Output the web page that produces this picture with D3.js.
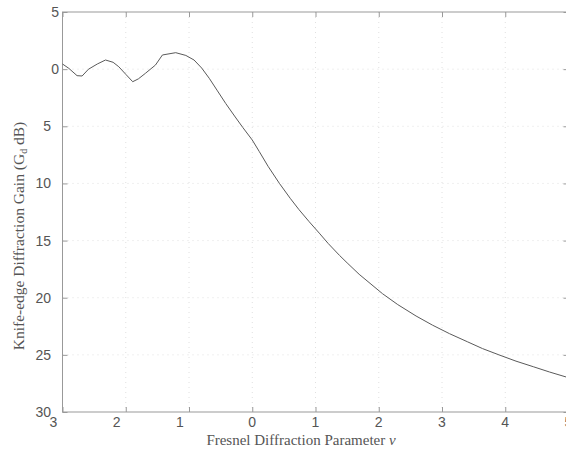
<!DOCTYPE html>
<html><head><meta charset="utf-8">
<script src="https://cdn.jsdelivr.net/npm/d3@7"></script>
<style>body{margin:0;background:#fff;}svg{display:block;}</style>
</head><body>
<svg id="c" width="566" height="449"></svg>
<script>
// Data
const vValues = [-3, -2.9, -2.77, -2.69, -2.59, -2.45, -2.32, -2.2, -2.11, -2.0, -1.89, -1.8, -1.69, -1.53, -1.42, -1.21, -1.05, -0.92, -0.8, -0.68, -0.55, -0.42, -0.28, -0.15, 0, 0.11, 0.25, 0.43, 0.6, 0.74, 0.9, 1.06, 1.2, 1.38, 1.5, 1.69, 2.06, 2.3, 2.59, 2.85, 3.12, 3.4, 3.64, 3.9, 4.17, 4.45, 4.7, 5];
const gainDb = [0.45, 0.07, -0.57, -0.6, -0.01, 0.45, 0.8, 0.6, 0.21, -0.45, -1.1, -0.85, -0.37, 0.36, 1.24, 1.44, 1.2, 0.8, 0.1, -0.8, -1.9, -3.0, -4.1, -5.1, -6.2, -7.2, -8.5, -10.0, -11.3, -12.3, -13.35, -14.35, -15.25, -16.3, -16.95, -17.95, -19.65, -20.6, -21.6, -22.4, -23.15, -23.85, -24.45, -25.0, -25.55, -26.05, -26.5, -27.0];
const xTicks = [-3, -2, -1, 0, 1, 2, 3, 4, 5];
const yTicks = [5, 0, -5, -10, -15, -20, -25, -30];
const xTitle = "Fresnel Diffraction Parameter ";
const yTitle = "Knife-edge Diffraction Gain (G";

const svg = d3.select("#c");
const L = 62.5, R = 568.5, T = 12, B = 412;
const x = d3.scaleLinear().domain([-3, 5]).range([L, R]);
const y = d3.scaleLinear().domain([-30, 5]).range([B, T]);

// grid
const g = svg.append("g");
g.selectAll(".gx").data(xTicks.slice(1, -1)).join("line")
  .attr("x1", d => x(d)).attr("x2", d => x(d)).attr("y1", T).attr("y2", B)
  .attr("stroke", "#e0e0e0").attr("stroke-dasharray", "1,4");
g.selectAll(".gy").data(yTicks.slice(1, -1)).join("line")
  .attr("y1", d => y(d)).attr("y2", d => y(d)).attr("x1", L).attr("x2", R)
  .attr("stroke", "#e0e0e0").attr("stroke-dasharray", "1,4");

// frame
svg.append("rect").attr("x", L).attr("y", T).attr("width", R - L).attr("height", B - T)
  .attr("fill", "none").attr("stroke", "#999").attr("stroke-width", 1);

// inward ticks
const tk = 5;
const axisColor = "#999";
const axB = d3.axisBottom(x).tickValues(xTicks).tickSize(-tk).tickFormat("");
const axT = d3.axisTop(x).tickValues(xTicks).tickSize(-tk).tickFormat("");
const axLf = d3.axisLeft(y).tickValues(yTicks).tickSize(-tk).tickFormat("");
const axRt = d3.axisRight(y).tickValues(yTicks).tickSize(-tk).tickFormat("");
[[axB, `translate(0,${B})`], [axT, `translate(0,${T})`], [axLf, `translate(${L},0)`], [axRt, `translate(${R},0)`]].forEach(([a, t]) => {
  const gg = svg.append("g").attr("transform", t).call(a);
  gg.select(".domain").remove();
  gg.selectAll("line").attr("stroke", axisColor);
});

// tick labels
const lblFont = "Liberation Sans, Arial, sans-serif";
svg.selectAll(".xl").data(xTicks).join("text")
  .attr("x", d => x(d) + (d < 0 ? -9 : 0)).attr("y", 427)
  .attr("text-anchor", "middle").attr("font-family", lblFont).attr("font-size", 14)
  .attr("fill", "#555").text(d => Math.abs(d));
svg.selectAll(".yl").data(yTicks).join("text")
  .attr("x", d => (d < 0 ? 51 : 59)).attr("y", d => y(d) + 5)
  .attr("text-anchor", "end").attr("font-family", lblFont).attr("font-size", 14)
  .attr("fill", "#555").text(d => Math.abs(d));

// curve
const pts = vValues.map((v, i) => [v, gainDb[i]]);
svg.append("path").datum(pts)
  .attr("d", d3.line().x(d => x(d[0])).y(d => y(d[1])))
  .attr("fill", "none").attr("stroke", "#5a5a5a").attr("stroke-width", 1);

// titles
const serif = "Liberation Serif, Times New Roman, serif";
const xt = svg.append("text").attr("x", 301).attr("y", 445).attr("text-anchor", "middle")
  .attr("font-family", serif).attr("font-size", 15).attr("fill", "#555");
xt.append("tspan").text(xTitle);
xt.append("tspan").attr("font-style", "italic").text("v");

const yt = svg.append("text").attr("transform", "translate(24,236) rotate(-90)")
  .attr("text-anchor", "middle").attr("font-family", serif).attr("font-size", 15.5).attr("fill", "#555");
yt.append("tspan").text(yTitle);
yt.append("tspan").attr("font-size", 10).attr("dy", 3).text("d");
yt.append("tspan").attr("dy", -3).text(" dB)");
</script>
</body></html>
